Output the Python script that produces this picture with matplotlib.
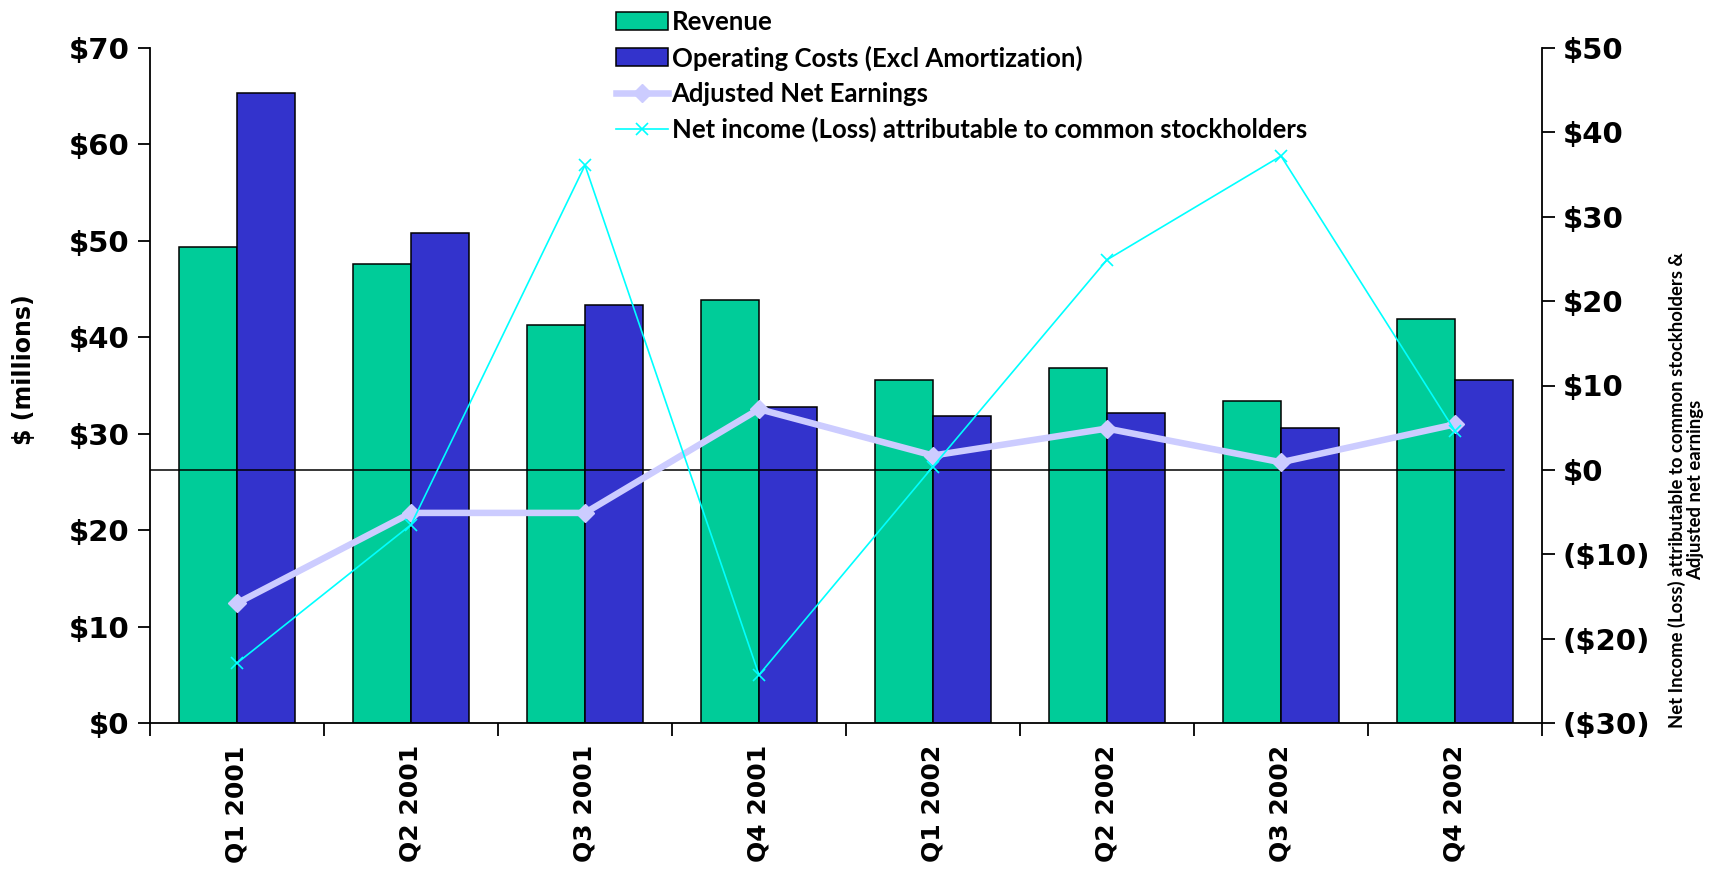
import matplotlib
matplotlib.use("Agg")
import matplotlib.pyplot as plt
import numpy as np
from matplotlib.ticker import FixedLocator, FuncFormatter

categories = ["Q1 2001", "Q2 2001", "Q3 2001", "Q4 2001",
              "Q1 2002", "Q2 2002", "Q3 2002", "Q4 2002"]
revenue = [49.4, 47.6, 41.3, 43.9, 35.6, 36.8, 33.4, 41.9]
op_costs = [65.3, 50.8, 43.4, 32.8, 31.8, 32.2, 30.6, 35.6]
adj_net = [-15.8, -5.1, -5.1, 7.2, 1.7, 4.9, 0.9, 5.4]
net_income = [-22.9, -6.5, 36.1, -24.3, 0.4, 24.9, 37.2, 4.6]

left_ticks = [0, 10, 20, 30, 40, 50, 60, 70]
right_ticks = [-30, -20, -10, 0, 10, 20, 30, 40, 50]

C_REV = "#00CC99"
C_OP = "#3333CC"
C_ADJ = "#CCCCFF"
C_NET = "#00FFFF"

W, H = 1715, 877
fig = plt.figure(figsize=(W / 100, H / 100), dpi=100)
ax = fig.add_axes([150 / W, 1 - 723 / H, (1542 - 150) / W, (723 - 48) / H])
ax2 = ax.twinx()

x = np.arange(len(categories))
bw = 1 / 3
b1 = ax.bar(x - bw / 2, revenue, bw, color=C_REV, edgecolor="black", linewidth=1.1, label="Revenue")
b2 = ax.bar(x + bw / 2, op_costs, bw, color=C_OP, edgecolor="black", linewidth=1.1,
            label="Operating Costs (Excl Amortization)")

ax.set_xlim(-0.5, len(categories) - 0.5)
ax.set_ylim(0, 70)
ax2.set_ylim(-30, 50)

ax2.axhline(0, xmin=0, xmax=(1504 - 150) / (1542 - 150), color="black", linewidth=1.1, zorder=1)
l1, = ax2.plot(x, adj_net, color=C_ADJ, linewidth=4.7, marker="D", markersize=9,
               label="Adjusted Net Earnings", zorder=3)
l2, = ax2.plot(x, net_income, color=C_NET, linewidth=1.2, marker="x", markersize=8,
               markeredgewidth=1.2, label="Net income (Loss) attributable to common stockholders", zorder=4)

def money(v, pos=None):
    v = int(round(v))
    return f"(${-v})" if v < 0 else f"${v}"

ax.yaxis.set_major_locator(FixedLocator(left_ticks))
ax.yaxis.set_major_formatter(FuncFormatter(money))
ax2.yaxis.set_major_locator(FixedLocator(right_ticks))
ax2.yaxis.set_major_formatter(FuncFormatter(money))
ax.tick_params(axis="y", direction="out", length=9, width=1.3, labelsize=21, pad=6)
ax2.tick_params(axis="y", direction="out", length=9, width=1.3, labelsize=21, pad=6)
for lab in ax.get_yticklabels() + ax2.get_yticklabels():
    lab.set_fontweight("bold")

ax.set_xticks(x)
ax.set_xticklabels(categories, rotation=90, fontsize=18, fontweight="bold")
ax.set_xticks(np.arange(len(categories) + 1) - 0.5, minor=True)
ax.tick_params(axis="x", which="major", length=0, pad=16)
ax.tick_params(axis="x", which="minor", direction="out", length=9, width=1.3)

for a in (ax, ax2):
    a.spines["top"].set_visible(False)
ax.spines["right"].set_visible(False)
ax2.spines["left"].set_visible(False)
ax2.spines["bottom"].set_visible(False)
for s in ("left", "bottom"):
    ax.spines[s].set_linewidth(1.3)
ax2.spines["right"].set_linewidth(1.3)

narrow = ["Lato", "DejaVu Sans"]

fig.text(24 / W, 1 - 370 / H, "$ (millions)", rotation=90, ha="center", va="center",
         fontsize=17, fontweight="bold", family="DejaVu Sans")
fig.text(1686 / W, 1 - 490 / H,
         "Net Income (Loss) attributable to common stockholders &\nAdjusted net earnings",
         rotation=90, ha="center", va="center", multialignment="center",
         fontsize=13.3, fontweight="bold", family=narrow, linespacing=1.1)

leg = fig.legend(handles=[b1, b2, l1, l2], loc="upper left",
                 bbox_to_anchor=(606 / W, 1 - 0 / H), frameon=False,
                 prop=dict(family=narrow, weight="bold", size=18.5),
                 handlelength=2.0, handletextpad=0.15, labelspacing=0.43, borderaxespad=0)

fig.savefig("out.png", dpi=100)
